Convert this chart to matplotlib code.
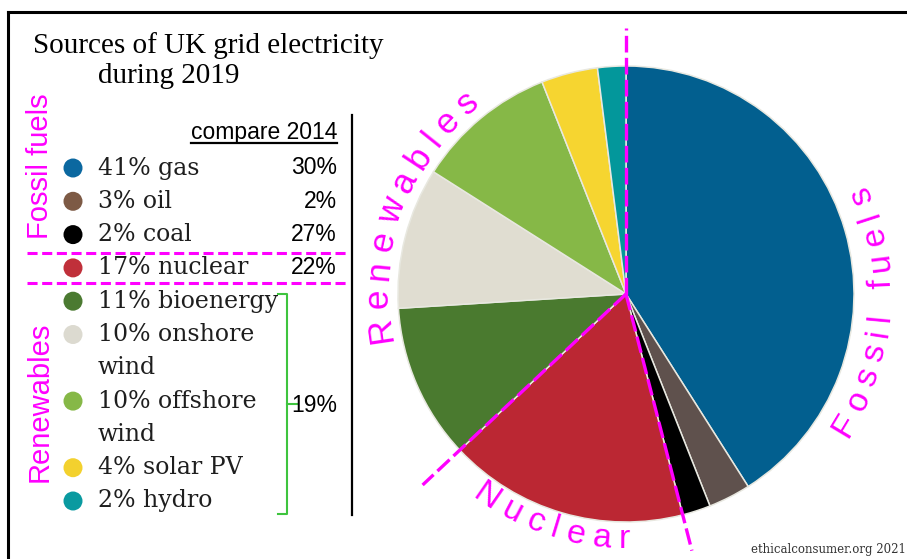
import numpy as np
import matplotlib
matplotlib.use("Agg")
import matplotlib.pyplot as plt
from matplotlib.patches import Circle
from matplotlib.font_manager import FontProperties
from matplotlib.textpath import TextToPath

# data
sources = ["gas", "oil", "coal", "nuclear", "bioenergy",
           "onshore wind", "offshore wind", "solar PV", "hydro"]
shares_2019 = [41, 3, 2, 17, 11, 10, 10, 4, 2]
legend_labels = ["41% gas", "3% oil", "2% coal", "17% nuclear", "11% bioenergy",
                 "10% onshore\nwind", "10% offshore\nwind", "4% solar PV", "2% hydro"]
compare_2014 = ["30%", "2%", "27%", "22%"]
renewables_2014 = "19%"
group_names = ["Fossil fuels", "Nuclear", "Renewables"]

pie_colors = ["#025f8f", "#5f514d", "#000000", "#bb2733", "#4a7a2f",
              "#e0ddd1", "#86b847", "#f6d530", "#03979b"]
dot_colors = ["#0b68a0", "#7d5a45", "#000000", "#c0303a", "#4b7a31",
              "#dcdad0", "#86b847", "#f3d12e", "#0a9aa0"]
MAGENTA = "#ff00ff"

W, H = 907, 559
fig = plt.figure(figsize=(W / 100, H / 100), dpi=100)
ax = fig.add_axes([0, 0, 1, 1])


def Y(y):
    # image rows -> data y
    return H - y


# pie
cx, cy, R = 626, Y(294), 228
ax.pie(shares_2019, colors=pie_colors, startangle=90, counterclock=False,
       center=(cx, cy), radius=R,
       wedgeprops=dict(edgecolor="#e8e8e0", linewidth=1.1))
ax.set_xlim(0, W)
ax.set_ylim(0, H)
ax.set_aspect("equal")
ax.axis("off")

# group boundaries on the pie
cum = np.cumsum([0] + shares_2019) / 100
for frac, length in [(cum[0], 266), (cum[3], 265), (cum[4], 279)]:
    a = np.deg2rad(90 - 360 * frac)
    ax.plot([cx, cx + length * np.cos(a)], [cy, cy + length * np.sin(a)],
            color=MAGENTA, lw=2.4, ls=(0, (5, 1.6)), solid_capstyle="butt")

# curved group labels
ttp = TextToPath()


def char_width(ch, prop):
    w1 = ttp.get_text_width_height_descent("|" + ch + "|", prop, ismath=False)[0]
    w0 = ttp.get_text_width_height_descent("||", prop, ismath=False)[0]
    return (w1 - w0) * 100 / 72


def arc_text(s, start, r, size, track, clockwise):
    prop = FontProperties(family="Liberation Sans", size=size)
    ang = start
    prev = None
    for ch in s:
        w = char_width(ch, prop)
        if prev is not None:
            step = np.rad2deg((prev / 2 + w / 2 + track) / r)
            ang = ang - step if clockwise else ang + step
        prev = w
        if ch == " ":
            continue
        a = np.deg2rad(ang)
        rot = ang - 90 if clockwise else ang + 90
        ax.text(cx + r * np.cos(a), cy + r * np.sin(a), ch, fontproperties=prop,
                color=MAGENTA, rotation=rot, rotation_mode="anchor",
                ha="center", va="center")


arc_text(group_names[0], -31, 256, 24.5, 8, clockwise=False)
arc_text(group_names[1], -124.6, 246, 24.5, 8, clockwise=False)
arc_text(group_names[2], 188.4, 248, 25.5, 9, clockwise=True)

# title
ax.text(33, Y(53), "Sources of UK grid electricity", family="Liberation Serif",
        fontsize=21, va="baseline")
ax.text(98, Y(83), "during 2019", family="Liberation Serif",
        fontsize=21, va="baseline")

# side group labels
ax.text(40, Y(166), group_names[0], rotation=90, color=MAGENTA,
        family="Liberation Sans", fontsize=21, ha="center", va="center")
ax.text(40, Y(402), group_names[2], rotation=90, color=MAGENTA,
        family="Liberation Sans", fontsize=21, ha="center", va="center")

# legend
row0, row_step = 168, 33.3
line = 0
for i, lab in enumerate(legend_labels):
    y = row0 + row_step * line
    ax.add_patch(Circle((73, Y(y)), 9.5, color=dot_colors[i], lw=0))
    parts = lab.split("\n")
    for j, part in enumerate(parts):
        ax.text(98, Y(y + row_step * j), part, family="DejaVu Serif",
                fontsize=17, color="#1e1e1e", va="center")
    if i < len(compare_2014):
        ax.text(337, Y(y), compare_2014[i], family="Liberation Sans",
                fontsize=16.5, ha="right", va="center")
    line += len(parts)

ax.text(337, Y(132), "compare 2014", family="Liberation Sans",
        fontsize=16.5, ha="right", va="center")
ax.plot([191, 337], [Y(143), Y(143)], color="black", lw=1.6)
ax.plot([352, 352], [Y(115), Y(515)], color="black", lw=1.6)

# dashed separators in the legend
for yy in [253, 283]:
    ax.plot([27, 348], [Y(yy), Y(yy)], color=MAGENTA, lw=2.2,
            ls=(0, (3.3, 1.5)))

# bracket for renewables
GREEN = "#3ec43e"
ax.plot([278, 287, 287, 278], [Y(294), Y(294), Y(514), Y(514)],
        color=GREEN, lw=1.5)
ax.plot([287, 298], [Y(404), Y(404)], color=GREEN, lw=1.5)
ax.text(337, Y(405), renewables_2014, family="Liberation Sans",
        fontsize=16.5, ha="right", va="center")

# frame
ax.plot([8, W], [Y(12), Y(12)], color="black", lw=2.2)
ax.plot([8, 8], [Y(12), 0], color="black", lw=2.2)

ax.text(906, Y(553), "ethicalconsumer.org 2021", family="DejaVu Serif",
        fontsize=8.5, color="#333333", ha="right", va="baseline")

fig.savefig("out.png", dpi=100)
